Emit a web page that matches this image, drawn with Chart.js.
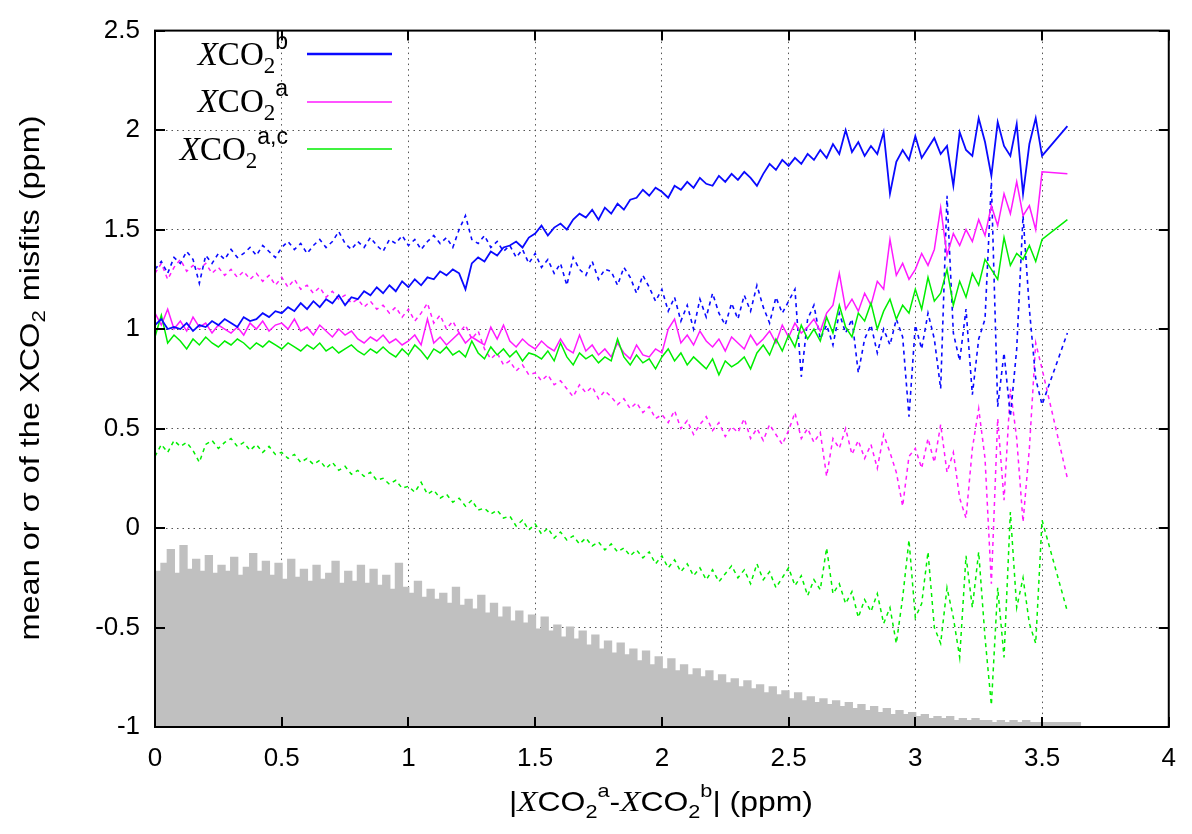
<!DOCTYPE html>
<html>
<head>
<meta charset="utf-8">
<script src="https://cdn.jsdelivr.net/npm/chart.js@4.4.1/dist/chart.umd.min.js"></script>
<style>
  html, body { margin: 0; padding: 0; background: #fff; }
  #wrap { width: 1192px; height: 834px; }
</style>
</head>
<body>
<div id="wrap"><canvas id="chart" width="1192" height="834"></canvas></div>
<script>
// x grid of the binned misfit curves (ppm), last bins are sparse
const step = 0.025
const binX = Array.from({length: 140}, (_, i) => +(i * step).toFixed(3)).concat([3.5, 3.6])
// histogram bins (bar centres)
const histX = Array.from({length: 146}, (_, i) => +(0.0125 + i * step).toFixed(4))

// solid: XCO2 b
const blueSolid = [
  1.02, 1.05, 1.00, 1.01,  1.00, 1.03, 0.99, 1.02,  1.01, 1.04, 1.02, 1.05,  1.03, 1.01, 1.06, 1.04,
  1.05, 1.08, 1.06, 1.09,  1.08, 1.11, 1.09, 1.13,  1.10, 1.14, 1.11, 1.15,  1.13, 1.17, 1.12, 1.16,
  1.15, 1.19, 1.17, 1.21,  1.18, 1.22, 1.19, 1.24,  1.21, 1.25, 1.22, 1.26,  1.25, 1.29, 1.27, 1.30,
  1.28, 1.20, 1.33, 1.36,  1.34, 1.39, 1.37, 1.41,  1.42, 1.44, 1.41, 1.46,  1.48, 1.52, 1.47, 1.51,
  1.53, 1.50, 1.55, 1.58,  1.56, 1.60, 1.55, 1.61,  1.58, 1.63, 1.60, 1.65,  1.66, 1.70, 1.67, 1.71,
  1.69, 1.66, 1.72, 1.70,  1.74, 1.71, 1.76, 1.73,  1.72, 1.77, 1.74, 1.78,  1.75, 1.79, 1.76, 1.72,
  1.78, 1.83, 1.80, 1.85,  1.82, 1.86, 1.83, 1.88,  1.85, 1.90, 1.86, 1.93,  1.88, 2.00, 1.89, 1.94,
  1.87, 1.92, 1.88, 1.99,  1.68, 1.84, 1.90, 1.85,  1.97, 1.86, 1.91, 1.96,  1.88, 1.92, 1.72, 1.99,
  1.90, 1.87, 2.06, 1.94,  1.77, 2.04, 1.92, 1.87,  2.03, 1.68, 1.93, 2.06,
  1.87, 2.02
]
// dashed: XCO2 b
const blueDashed = [
  1.30, 1.34, 1.28, 1.36,  1.33, 1.39, 1.35, 1.23,  1.37, 1.33, 1.38, 1.35,  1.40, 1.36, 1.38, 1.41,
  1.37, 1.42, 1.39, 1.36,  1.41, 1.44, 1.40, 1.43,  1.38, 1.42, 1.45, 1.41,  1.44, 1.49, 1.43, 1.40,
  1.44, 1.41, 1.46, 1.42,  1.39, 1.45, 1.43, 1.47,  1.42, 1.45, 1.40, 1.44,  1.47, 1.43, 1.46, 1.41,
  1.50, 1.57, 1.45, 1.43,  1.47, 1.41, 1.44, 1.39,  1.42, 1.36, 1.40, 1.33,  1.38, 1.31, 1.35, 1.28,
  1.33, 1.22, 1.36, 1.30,  1.27, 1.34, 1.25, 1.30,  1.29, 1.22, 1.31, 1.26,  1.18, 1.27, 1.21, 1.14,
  1.20, 1.09, 1.16, 1.04,  1.12, 1.00, 1.15, 1.06,  1.18, 1.08, 1.02, 1.13,  1.05, 1.17, 1.09, 1.22,
  1.11, 1.03, 1.16, 1.08,  1.14, 1.20, 0.76, 1.05,  1.12, 0.95, 1.02, 0.92,  1.08, 0.98, 1.05, 0.78,
  0.95, 1.02, 0.88, 1.00,  0.92, 1.05, 0.96, 0.56,  1.02, 0.90, 1.08, 0.95,  0.70, 1.67, 0.98, 0.84,
  1.10, 0.67, 0.95, 1.05,  1.74, 0.61, 0.88, 0.56,  0.90, 1.57, 1.10, 0.75,
  0.62, 0.98
]
// solid: XCO2 a
const magentaSolid = [
  1.08, 1.02, 1.10, 1.00,  1.04, 0.99, 1.06, 1.01,  1.03, 0.98, 1.02, 1.00,  0.98, 1.01, 0.97, 1.03,
  1.00, 1.04, 0.99, 1.02,  1.03, 1.00, 1.05, 0.99,  1.01, 0.97, 1.02, 0.99,  0.96, 1.00, 0.97, 0.99,
  0.95, 0.93, 0.96, 0.94,  0.97, 0.93, 0.95, 0.92,  0.94, 0.97, 0.92, 1.05,  0.93, 0.96, 0.92, 0.95,
  0.98, 0.93, 0.96, 0.94,  0.92, 1.01, 0.95, 1.02,  0.94, 0.91, 0.95, 0.92,  0.90, 0.94, 0.91, 0.89,
  0.95, 0.90, 0.88, 0.97,  0.89, 0.92, 0.87, 0.90,  0.86, 0.93, 0.88, 0.85,  0.92, 0.87, 0.86, 0.90,
  0.88, 1.00, 1.05, 0.93,  0.97, 0.92, 0.99, 0.94,  0.91, 0.95, 0.89, 0.96,  0.93, 0.90, 0.97, 0.92,
  0.95, 0.99, 0.93, 1.02,  0.96, 1.03, 0.98, 1.01,  1.05, 0.99, 1.08, 1.12,  1.28, 1.10, 1.15, 1.09,
  1.18, 1.12, 1.24, 1.20,  1.45, 1.27, 1.33, 1.25,  1.30, 1.38, 1.32, 1.40,  1.61, 1.37, 1.48, 1.42,
  1.50, 1.44, 1.55, 1.47,  1.62, 1.52, 1.68, 1.58,  1.74, 1.57, 1.62, 1.50,
  1.79, 1.78
]
// dashed: XCO2 a
const magentaDashed = [
  1.28, 1.33, 1.25, 1.31,  1.35, 1.29, 1.32, 1.30,  1.33, 1.28, 1.31, 1.27,  1.30, 1.26, 1.29, 1.25,
  1.28, 1.24, 1.27, 1.22,  1.26, 1.21, 1.25, 1.20,  1.22, 1.18, 1.21, 1.16,  1.19, 1.15, 1.17, 1.13,
  1.15, 1.11, 1.14, 1.10,  1.12, 1.08, 1.11, 1.06,  1.10, 1.04, 1.08, 1.13,  1.03, 1.07, 1.00, 1.04,
  0.98, 1.02, 0.95, 0.99,  0.90, 0.85, 0.88, 0.82,  0.84, 0.79, 0.82, 0.77,  0.78, 0.74, 0.77, 0.72,
  0.74, 0.70, 0.66, 0.72,  0.68, 0.71, 0.65, 0.69,  0.66, 0.62, 0.65, 0.60,  0.63, 0.58, 0.61, 0.55,
  0.57, 0.53, 0.59, 0.50,  0.54, 0.47, 0.52, 0.56,  0.49, 0.53, 0.46, 0.51,  0.48, 0.55, 0.45, 0.50,
  0.44, 0.52, 0.47, 0.42,  0.49, 0.58, 0.45, 0.50,  0.43, 0.48, 0.26, 0.45,  0.40, 0.50, 0.37, 0.44,
  0.35, 0.42, 0.30, 0.47,  0.38, 0.28, 0.11, 0.36,  0.40, 0.30, 0.45, 0.33,  0.52, 0.28, 0.38, 0.15,
  0.05, 0.40, 0.60, 0.35, -0.28, 0.55, 0.14, 0.70,  0.45, 0.03, 0.40, 0.93,
  0.80, 0.25
]
// solid: XCO2 a,c
const greenSolid = [
  0.96, 1.07, 0.93, 0.97,  0.94, 0.90, 0.95, 0.92,  0.96, 0.93, 0.91, 0.94,  0.92, 0.95, 0.93, 0.90,
  0.93, 0.91, 0.94, 0.92,  0.90, 0.93, 0.91, 0.89,  0.92, 0.90, 0.93, 0.89,  0.91, 0.88, 0.90, 0.92,
  0.89, 0.87, 0.90, 0.88,  0.91, 0.88, 0.86, 0.90,  0.87, 0.92, 0.89, 0.85,  0.90, 0.88, 0.91, 0.87,
  0.89, 0.86, 0.94, 0.88,  0.85, 0.91, 0.87, 0.90,  0.86, 0.89, 0.84, 0.88,  0.87, 0.85, 0.89, 0.84,
  0.93, 0.86, 0.82, 0.88,  0.85, 0.87, 0.83, 0.86,  0.84, 0.95, 0.86, 0.82,  0.87, 0.83, 0.85, 0.80,
  0.86, 0.90, 0.84, 0.88,  0.82, 0.86, 0.83, 0.80,  0.85, 0.77, 0.84, 0.81,  0.83, 0.86, 0.80, 0.88,
  0.92, 0.87, 0.95, 0.89,  0.97, 0.91, 1.02, 0.95,  1.00, 0.94, 1.06, 0.98,  1.12, 1.01, 0.96, 1.08,
  1.04, 1.13, 1.00, 1.09,  1.15, 1.05, 1.12, 1.08,  1.20, 1.10, 1.26, 1.14,  1.18, 1.30, 1.12, 1.24,
  1.16, 1.28, 1.22, 1.35,  1.30, 1.25, 1.46, 1.32,  1.38, 1.35, 1.42, 1.34,
  1.45, 1.55
]
// dashed: XCO2 a,c
const greenDashed = [
  0.36, 0.42, 0.38, 0.44,  0.41, 0.43, 0.39, 0.33,  0.42, 0.44, 0.40, 0.43,  0.45, 0.41, 0.43, 0.39,
  0.42, 0.38, 0.41, 0.37,  0.38, 0.35, 0.37, 0.33,  0.35, 0.32, 0.34, 0.30,  0.33, 0.29, 0.31, 0.27,
  0.29, 0.26, 0.28, 0.24,  0.25, 0.22, 0.24, 0.20,  0.21, 0.18, 0.23, 0.17,  0.19, 0.15, 0.17, 0.13,
  0.15, 0.11, 0.14, 0.09,  0.10, 0.07, 0.09, 0.05,  0.06, 0.01, 0.04, -0.01, 0.02, -0.03, 0.00, -0.05,
  -0.02, -0.06, -0.04, -0.08,  -0.05, -0.09, -0.07, -0.11,  -0.08, -0.12, -0.10, -0.14,  -0.11, -0.15, -0.12, -0.18,
  -0.14, -0.20, -0.16, -0.22,  -0.18, -0.24, -0.20, -0.26,  -0.21, -0.27, -0.23, -0.19,  -0.25, -0.21, -0.28, -0.18,
  -0.26, -0.22, -0.30, -0.25,  -0.20, -0.29, -0.24, -0.34,  -0.26, -0.31, -0.10, -0.33,  -0.28, -0.38, -0.32, -0.45,
  -0.36, -0.42, -0.33, -0.48,  -0.40, -0.58, -0.35, -0.06,  -0.45, -0.38, -0.12, -0.50,  -0.58, -0.30, -0.45, -0.65,
  -0.14, -0.40, -0.12, -0.55,  -0.89, -0.30, -0.65, 0.08,  -0.40, -0.25, -0.48, -0.58,
  0.04, -0.42
]
// histogram of the pairs, drawn on the same y scale from -1 upward
const histTop = [
  -0.22, -0.18, -0.11, -0.23,  -0.09, -0.21, -0.16, -0.22,  -0.14, -0.23, -0.19, -0.22,  -0.15, -0.24, -0.20, -0.13,
  -0.22, -0.17, -0.24, -0.18,  -0.26, -0.16, -0.25, -0.21,  -0.27, -0.19, -0.26, -0.23,  -0.17, -0.28, -0.22, -0.27,
  -0.19, -0.28, -0.21, -0.29,  -0.24, -0.31, -0.18, -0.30,  -0.33, -0.27, -0.35, -0.31,  -0.36, -0.33, -0.38, -0.30,
  -0.39, -0.36, -0.41, -0.34,  -0.43, -0.38, -0.45, -0.40,  -0.47, -0.42, -0.48, -0.44,  -0.51, -0.45, -0.52, -0.49,
  -0.55, -0.50, -0.56, -0.52,  -0.59, -0.54, -0.61, -0.57,  -0.63, -0.58, -0.64, -0.61,  -0.67, -0.62, -0.69, -0.65,
  -0.71, -0.66, -0.72, -0.69,  -0.74, -0.71, -0.75, -0.72,  -0.77, -0.74, -0.78, -0.76,  -0.80, -0.77, -0.81, -0.79,
  -0.83, -0.80, -0.84, -0.82,  -0.86, -0.83, -0.87, -0.85,  -0.88, -0.86, -0.89, -0.87,  -0.90, -0.88, -0.91, -0.89,
  -0.92, -0.90, -0.93, -0.91,  -0.94, -0.92, -0.94, -0.93,  -0.95, -0.94, -0.96, -0.95,  -0.96, -0.95, -0.97, -0.96,
  -0.97, -0.96, -0.97, -0.97,  -0.98, -0.97, -0.98, -0.97,  -0.98, -0.97, -0.98, -0.98,  -0.98, -0.98, -0.98, -0.98,
  -0.98, -0.98
]

const xTicks = [0, 0.5, 1, 1.5, 2, 2.5, 3, 3.5, 4]
const yTicks = [-1, -0.5, 0, 0.5, 1, 1.5, 2, 2.5]

const BLUE = "#0a0aff", MAGENTA = "#ff1aff", GREEN = "#00ee00", GREY = "#c0c0c0"
const SERIF = "'Liberation Serif', 'DejaVu Serif', serif"
const SANS = "'Liberation Sans', sans-serif"

function pts(xs, ys) { return xs.map((x, i) => ({x: x, y: ys[i]})) }

function lineSet(label, ys, color, width, dashed, order) {
  return {
    type: "line", label: label, data: pts(binX, ys),
    borderColor: color, borderWidth: width, borderDash: dashed ? [4, 4] : [],
    pointRadius: 0, tension: 0, fill: false, order: order
  }
}

// draws text made of pieces [text, font, dy], optionally squeezed to a given width
function richText(ctx, parts, x, y, align, fitW) {
  let w = 0
  const widths = parts.map(p => { ctx.font = p[1]; const m = ctx.measureText(p[0]).width; w += m; return m })
  const sx = fitW ? fitW / w : 1
  ctx.save()
  ctx.translate(x, y)
  ctx.scale(sx, 1)
  let cx = align == "right" ? -w : align == "center" ? -w / 2 : 0
  parts.forEach((p, i) => { ctx.font = p[1]; ctx.fillText(p[0], cx, p[2] || 0); cx += widths[i] })
  ctx.restore()
}

const decorations = {
  id: "decorations",
  afterDraw(chart) {
    const ctx = chart.ctx
    const a = chart.chartArea
    const xs = chart.scales.x, ys = chart.scales.y
    ctx.save()
    // frame and inward ticks, gnuplot style
    ctx.strokeStyle = "#000"
    ctx.lineWidth = 2
    ctx.strokeRect(a.left, a.top, a.right - a.left, a.bottom - a.top)
    ctx.beginPath()
    yTicks.forEach(v => {
      const p = Math.round(ys.getPixelForValue(v))
      ctx.moveTo(a.left, p); ctx.lineTo(a.left + 10, p)
      ctx.moveTo(a.right, p); ctx.lineTo(a.right - 10, p)
    })
    xTicks.forEach(v => {
      const p = Math.round(xs.getPixelForValue(v))
      ctx.moveTo(p, a.bottom); ctx.lineTo(p, a.bottom - 10)
      ctx.moveTo(p, a.top); ctx.lineTo(p, a.top + 10)
    })
    ctx.stroke()

    // legend
    ctx.fillStyle = "#000"
    ctx.textBaseline = "alphabetic"
    const big = "33px " + SERIF, it = "italic 33px " + SERIF, sub = "23px " + SERIF, sup = "23px " + SANS
    const rows = [
      {sup: "b", color: BLUE, w: 2.5, base: 65, ly: 54},
      {sup: "a", color: MAGENTA, w: 1.5, base: 112, ly: 102},
      {sup: "a,c", color: GREEN, w: 1.5, base: 160, ly: 149}
    ]
    rows.forEach(r => {
      richText(ctx, [["X", it], ["CO", big], ["2", sub, 8], [r.sup, sup, -16]], 288, r.base, "right")
      ctx.strokeStyle = r.color
      ctx.lineWidth = r.w
      ctx.beginPath(); ctx.moveTo(307, r.ly); ctx.lineTo(392, r.ly); ctx.stroke()
    })

    // axis titles
    const t = "28px " + SANS, ts = "19px " + SANS, ti = "italic 29px " + SERIF
    ctx.fillStyle = "#000"
    ctx.textBaseline = "middle"
    ctx.save()
    ctx.translate(31, 378)
    ctx.rotate(-Math.PI / 2)
    richText(ctx, [["mean or \u03c3 of the XCO", t], ["2", ts, 9], [" misfits (ppm)", t]], 0, 0, "center", 525)
    ctx.restore()
    ctx.textBaseline = "alphabetic"
    richText(ctx, [["|", t], ["X", ti], ["CO", t], ["2", ts, 7], ["a", ts, -14], ["-", t], ["X", ti], ["CO", t],
      ["2", ts, 7], ["b", ts, -14], ["| (ppm)", t]], 661, 811, "center", 304)
    ctx.restore()
  }
}

new Chart(document.getElementById("chart"), {
  type: "line",
  data: {
    datasets: [
      lineSet("XCO2 b", blueSolid, BLUE, 1.8, false, 1),
      lineSet("XCO2 a,c", greenSolid, GREEN, 1.5, false, 2),
      lineSet("XCO2 a", magentaSolid, MAGENTA, 1.5, false, 3),
      lineSet("XCO2 b sigma", blueDashed, BLUE, 1.6, true, 4),
      lineSet("XCO2 a sigma", magentaDashed, MAGENTA, 1.5, true, 5),
      lineSet("XCO2 a,c sigma", greenDashed, GREEN, 1.5, true, 6),
      {
        type: "bar", label: "pairs", data: pts(histX, histTop), base: -1,
        backgroundColor: GREY, borderWidth: 0, barPercentage: 1, categoryPercentage: 1,
        inflateAmount: 1, grouped: false, order: 10
      }
    ]
  },
  options: {
    responsive: false,
    animation: false,
    events: [],
    layout: {padding: {top: 20, right: 20, left: 0, bottom: 0}},
    plugins: {legend: {display: false}, tooltip: {enabled: false}},
    scales: {
      x: {
        type: "linear", min: 0, max: 4, offset: false,
        afterFit: s => { s.height = 107 },
        afterBuildTicks: s => { s.ticks = xTicks.map(v => ({value: v})) },
        border: {display: false, dash: [1.5, 4]},
        grid: {color: "#555", lineWidth: 1, drawTicks: false, offset: false},
        ticks: {color: "#000", padding: 16, font: {family: SANS, size: 26}, maxRotation: 0, callback: v => String(v)}
      },
      y: {
        type: "linear", min: -1, max: 2.5,
        afterFit: s => { s.width = 155 },
        afterBuildTicks: s => { s.ticks = yTicks.map(v => ({value: v})) },
        border: {display: false, dash: [1.5, 4]},
        grid: {color: "#555", lineWidth: 1, drawTicks: false},
        ticks: {color: "#000", padding: 15, font: {family: SANS, size: 26}, callback: v => String(v)}
      }
    }
  },
  plugins: [decorations]
})
</script>
</body>
</html>
